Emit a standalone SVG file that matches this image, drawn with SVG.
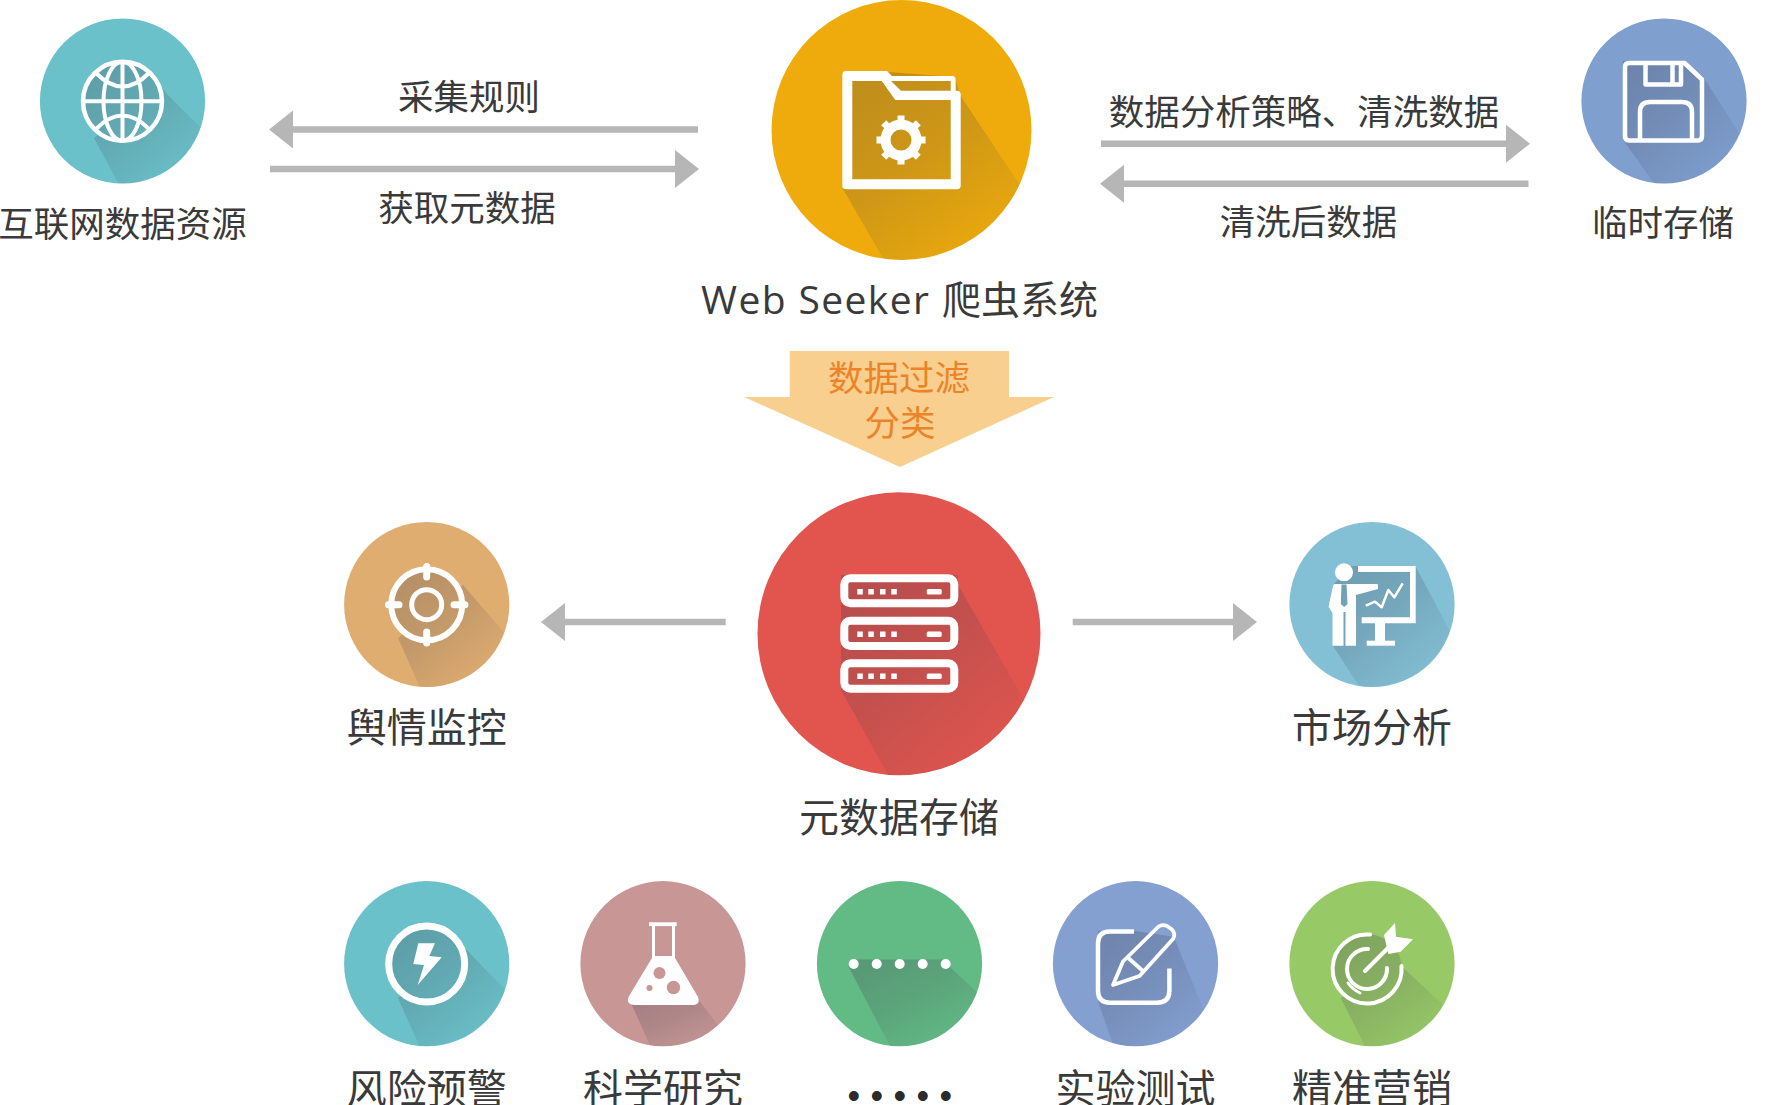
<svg xmlns="http://www.w3.org/2000/svg" width="1773" height="1105" viewBox="0 0 1773 1105">
<style>
text{font-family:"Noto Sans CJK SC","Noto Sans",sans-serif;fill:#3a3a3a;text-anchor:middle}
.s{font-size:35.5px}
.l{font-size:40px}
.o{font-size:35.5px;fill:#EB8428}
.shade{fill:url(#fade)}
.w{fill:#fff}
.ws{fill:none;stroke:#fff;stroke-linejoin:round}
.arrow{stroke:#B6B6B6;stroke-width:6.5;fill:none;marker-end:url(#head)}
</style>
<defs>
<linearGradient id="fade" x1="0.1" y1="0.05" x2="0.85" y2="0.95">
<stop offset="0" stop-color="#3a3a4a" stop-opacity="0.26"/>
<stop offset="0.4" stop-color="#3a3a4a" stop-opacity="0.18"/>
<stop offset="0.95" stop-color="#3a3a4a" stop-opacity="0"/>
</linearGradient>
<marker id="head" markerUnits="userSpaceOnUse" markerWidth="24" markerHeight="40" viewBox="0 0 24 40" refX="1" refY="20" orient="auto">
<polygon points="0,1 24,20 0,39" fill="#B6B6B6"/>
</marker>
<clipPath id="c1"><circle cx="122.5" cy="101" r="82.6"/></clipPath>
<clipPath id="c2"><circle cx="901.5" cy="130" r="130"/></clipPath>
<clipPath id="c3"><circle cx="1664" cy="101" r="82.6"/></clipPath>
<clipPath id="c4"><circle cx="899" cy="633.7" r="141.5"/></clipPath>
<clipPath id="c5"><circle cx="426.7" cy="604.5" r="82.6"/></clipPath>
<clipPath id="c6"><circle cx="1372" cy="604.5" r="82.6"/></clipPath>
<clipPath id="c7"><circle cx="426.7" cy="963.7" r="82.6"/></clipPath>
<clipPath id="c8"><circle cx="663" cy="963.7" r="82.6"/></clipPath>
<clipPath id="c9"><circle cx="899.5" cy="963.7" r="82.6"/></clipPath>
<clipPath id="c10"><circle cx="1135.5" cy="963.7" r="82.6"/></clipPath>
<clipPath id="c11"><circle cx="1372" cy="963.7" r="82.6"/></clipPath>
</defs>
<rect width="1773" height="1105" fill="#fff"/>

<g id="connectors">
<line class="arrow" x1="698" y1="129.5" x2="292" y2="129.5"/>
<line class="arrow" x1="270" y1="169" x2="676" y2="169"/>
<line class="arrow" x1="1101" y1="143.7" x2="1507" y2="143.7"/>
<line class="arrow" x1="1528.5" y1="183.7" x2="1123" y2="183.7"/>
<line class="arrow" x1="725.7" y1="622" x2="564" y2="622"/>
<line class="arrow" x1="1072.7" y1="622" x2="1234" y2="622"/>
<polygon id="filter-arrow" points="789.7,351 1009,351 1009,397 1054,397 900,467 744,397 789.7,397" fill="#F8CF8E"/>
</g>

<g id="node-internet">
<circle cx="122.5" cy="101" r="82.6" fill="#6AC1C9"/>
<path class="shade" clip-path="url(#c1)" d="M82,101a40.5,40.5 0 1 0 81,0a40.5,40.5 0 1 0 -81,0zM94,138L122,190L215,190L215,142L161,88Z"/>
<g class="ws" stroke-width="4">
<circle cx="122.5" cy="101.3" r="39.5" stroke-width="4.5"/>
<ellipse cx="122.5" cy="101.3" rx="19" ry="39.5"/>
<path d="M122.5,62V141M83,101.3H162"/>
<path d="M96,73Q122.5,100 149,73M96,129Q122.5,102 149,129"/>
</g>
<text class="s" x="122.5" y="237">互联网数据资源</text>
</g>

<g id="label-rules"><text class="s" x="469" y="110">采集规则</text></g>
<g id="label-get"><text class="s" x="467" y="221">获取元数据</text></g>

<g id="node-seeker">
<circle cx="901.5" cy="130" r="130" fill="#EEAB0B"/>
<path class="shade" clip-path="url(#c2)" d="M843,72L843,189L885,262L1060,262L1060,245L960,95L955,77L888,72Z"/>
<path class="w" fill-rule="evenodd" d="M846,71H887L892,76H952Q955.7,76 955.7,80V90.7H957Q960.7,90.7 960.7,94.5V185.5Q960.7,189.3 957,189.3H846Q842.3,189.3 842.3,185.5V75Q842.3,71 846,71ZM852.3,81V179.3H950.7V100H895.3L881.7,81ZM891,81L901,90.7H950.7V81Z"/>
<g class="ws">
<circle cx="901" cy="140" r="15.5" stroke-width="10"/>
<path stroke-width="7" d="M901,115.5V125M901,155V164.5M876.5,140H886M916,140H925.5M883.7,122.7L890.4,129.4M911.6,150.6L918.3,157.3M918.3,122.7L911.6,129.4M890.4,150.6L883.7,157.3"/>
</g>
<text x="701" y="314" font-size="39" style="text-anchor:start;font-family:'Open Sans','Noto Sans',sans-serif" textLength="228" lengthAdjust="spacing">Web Seeker</text>
<text x="942" y="314" font-size="39" style="text-anchor:start">爬虫系统</text>
</g>

<g id="label-strategy"><text class="s" x="1304" y="125">数据分析策略、清洗数据</text></g>
<g id="label-cleaned"><text class="s" x="1308.5" y="235">清洗后数据</text></g>

<g id="node-temp">
<circle cx="1664" cy="101" r="82.6" fill="#7F9FCF"/>
<path class="shade" clip-path="url(#c3)" d="M1623,61L1623,140L1659,190L1750,190L1750,150L1704,78L1685,61Z"/>
<g class="ws" stroke-width="4.5">
<path d="M1629,63H1684.5L1702,79.5V136Q1702,140.4 1698,140.4H1629Q1625,140.4 1625,136V67Q1625,63 1629,63Z"/>
<path d="M1645.5,63V84.5H1681V63"/>
<path d="M1640,140V112Q1640,102 1650,102H1682Q1692,102 1692,112V140"/>
<path d="M1672.5,63V84"/>
</g>
<text class="s" x="1663" y="236">临时存储</text>
</g>

<g id="label-filter">
<text class="o" x="899" y="391">数据过滤</text>
<text class="o" x="900" y="436">分类</text>
</g>

<g id="node-meta">
<circle cx="899" cy="633.7" r="141.5" fill="#E2554E"/>
<path class="shade" clip-path="url(#c4)" d="M841,575L841,690L892,782L1050,782L1050,745L958,585L958,575Z"/>
<g class="ws" stroke-width="8">
<rect x="844.3" y="578.3" width="110" height="25" rx="6"/>
<rect x="844.3" y="620.7" width="110" height="25.3" rx="6"/>
<rect x="844.3" y="663.3" width="110" height="25.4" rx="6"/>
</g>
<g class="w">
<path d="M857.3,589h5.5v5.5h-5.5zM868.3,589h5.5v5.5h-5.5zM880,589h5.5v5.5h-5.5zM891.3,589h5.5v5.5h-5.5z"/>
<path d="M857.3,631.5h5.5v5.5h-5.5zM868.3,631.5h5.5v5.5h-5.5zM880,631.5h5.5v5.5h-5.5zM891.3,631.5h5.5v5.5h-5.5z"/>
<path d="M857.3,673.5h5.5v5.5h-5.5zM868.3,673.5h5.5v5.5h-5.5zM880,673.5h5.5v5.5h-5.5zM891.3,673.5h5.5v5.5h-5.5z"/>
<rect x="926.7" y="589" width="15" height="5.5" rx="1.5"/>
<rect x="926.7" y="631.5" width="15" height="5.5" rx="1.5"/>
<rect x="926.7" y="673.5" width="15" height="5.5" rx="1.5"/>
</g>
<text class="l" x="899" y="832">元数据存储</text>
</g>

<g id="node-opinion">
<circle cx="426.7" cy="604.5" r="82.6" fill="#E0AD70"/>
<path class="shade" clip-path="url(#c5)" d="M390.7,604.7a36,36 0 1 0 72,0a36,36 0 1 0 -72,0zM398,638L422,692L515,692L515,645L463,585Z"/>
<g class="ws">
<circle cx="426.7" cy="604.7" r="35.5" stroke-width="6"/>
<circle cx="426.7" cy="604.7" r="15" stroke-width="5"/>
<path stroke-width="7" stroke-linecap="round" d="M426.7,566.5V577M426.7,632V643M388.5,604.7H399M454,604.7H465"/>
</g>
<text class="l" x="426.7" y="742">舆情监控</text>
</g>

<g id="node-market">
<circle cx="1372" cy="604.5" r="82.6" fill="#83C0D6"/>
<path class="shade" clip-path="url(#c6)" d="M1350,566L1333,585L1333,646L1363,692L1460,692L1460,650L1415.7,566.7Z"/>
<g class="w">
<circle cx="1344" cy="572.3" r="9"/>
<path fill-rule="evenodd" d="M1335,584H1377Q1378,584 1378,586L1378,589L1356,595V645.7H1345.5V612H1343.5V645.7H1332.5V613L1328.5,606.7L1333,586Q1333,584 1335,584ZM1341.5,584.5L1340.8,604L1344.2,607L1347.5,604L1346.5,584.5Z"/>
<path d="M1358,566H1415.7V623.3H1361.7V617.3H1410V572H1358Z"/>
<rect x="1375" y="623" width="10" height="18"/>
<rect x="1366.7" y="640.7" width="28.3" height="5"/>
</g>
<polyline class="ws" stroke-width="2.5" points="1365.7,605.7 1375,601.7 1381.7,607.3 1388.3,590 1394.3,597.3 1402.7,583.3"/>
<text class="l" x="1372" y="742">市场分析</text>
</g>

<g id="node-risk">
<circle cx="426.7" cy="963.7" r="82.6" fill="#6AC1C9"/>
<path class="shade" clip-path="url(#c7)" d="M388.7,964a38,38 0 1 0 76,0a38,38 0 1 0 -76,0zM398,998L421,1050L515,1050L515,1000L461.7,945Z"/>
<circle class="ws" cx="426.7" cy="964" r="38" stroke-width="7"/>
<polygon class="w" points="418.3,943.3 435,943.3 429.3,956 441.7,957.3 417.7,985 424,965 413.3,964"/>
<text class="l" x="426.7" y="1103">风险预警</text>
</g>

<g id="node-science">
<circle cx="663" cy="963.7" r="82.6" fill="#C89795"/>
<path class="shade" clip-path="url(#c8)" d="M631,1003L652,1050L735,1050L735,1048L695,995Z"/>
<g class="w">
<rect x="649" y="922.3" width="27.7" height="3.8"/>
<path d="M652,925h3V956h17V925h3V958L698,997Q701,1005 692,1005H635Q626,1005 628.5,997L652,958Z"/>
</g>
<g fill="#C89795">
<circle cx="659.5" cy="973" r="6"/>
<circle cx="673.5" cy="987.5" r="6.7"/>
<circle cx="649.5" cy="988" r="3"/>
</g>
<text class="l" x="663" y="1103">科学研究</text>
</g>

<g id="node-more">
<circle cx="899.5" cy="963.7" r="82.6" fill="#62BA85"/>
<path class="shade" clip-path="url(#c9)" d="M851,959.5L848.5,966.7L892,1050L985,1050L985,1000L949.6,966.7L947,959.5Z"/>
<g class="w">
<circle cx="853.7" cy="964" r="5"/>
<circle cx="876.7" cy="964" r="5"/>
<circle cx="899.7" cy="964" r="5"/>
<circle cx="922.7" cy="964" r="5"/>
<circle cx="945.7" cy="964" r="5"/>
</g>
<text x="853.7 876.7 899.7 922.7 945.7" y="1108" font-size="36" style="font-family:'Liberation Sans',sans-serif;fill:#2b2b2b">•••••</text>
</g>

<g id="node-test">
<circle cx="1135.5" cy="963.7" r="82.6" fill="#83A0D1"/>
<path class="shade" clip-path="url(#c10)" d="M1098,931L1098,1001L1115,1050L1220,1050L1173.8,936.7L1135,931Z"/>
<g class="ws" stroke-width="4.5">
<path stroke-linejoin="miter" d="M1134,931.5H1110Q1098,931.5 1098,943.5V990.5Q1098,1002.7 1110,1002.7H1157Q1169.4,1002.7 1169.4,990.5V968.5"/>
<path stroke-width="3.8" d="M1157,928Q1161,923.5 1167,926L1172,929.5Q1176,934 1173,939L1139.5,976L1113,985L1123,961.5Z"/>
<path stroke-width="3.8" d="M1127.4,957.3L1143,971"/>
</g>
<text class="l" x="1135.5" y="1103">实验测试</text>
</g>

<g id="node-marketing">
<circle cx="1372" cy="963.7" r="82.6" fill="#98C967"/>
<path class="shade" clip-path="url(#c11)" d="M1332,969a35,35 0 1 0 70,0a35,35 0 1 0 -70,0zM1340.7,998L1367,1050L1465,1050L1465,1025L1402,966.7Z"/>
<g class="ws" stroke-linecap="round">
<path stroke-width="4" d="M1370,934.6A34.5,34.5 0 1 0 1401.5,966"/>
<path stroke-width="4" d="M1368,949A20,20 0 1 0 1387,968"/>
<path stroke-width="2.8" d="M1348,983Q1352,989 1360,993"/>
<path stroke-width="4" d="M1365,971L1392,944"/>
</g>
<polygon class="w" points="1384,935 1395,923 1396,936.7 1413,939.3 1400.6,951.7 1388.4,954"/>
<text class="l" x="1372" y="1103">精准营销</text>
</g>
</svg>
